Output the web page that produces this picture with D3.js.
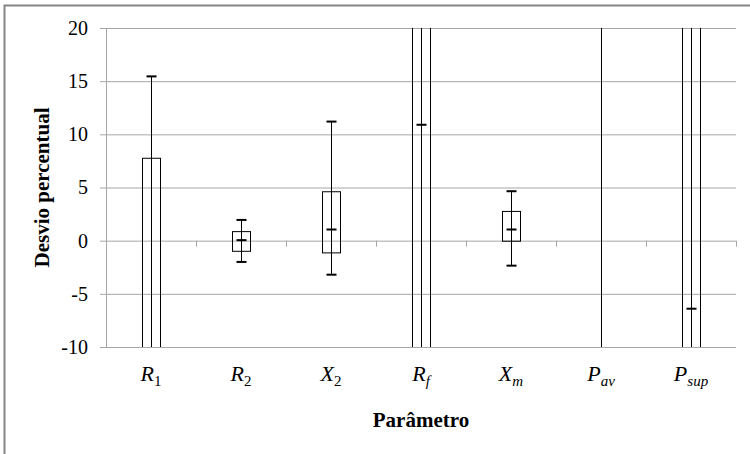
<!DOCTYPE html>
<html>
<head>
<meta charset="utf-8">
<script src="https://cdn.jsdelivr.net/npm/d3@7"></script>
<style>
  body { margin: 0; background: #fff; }
  svg { display: block; }
  text { font-family: "Liberation Serif", "DejaVu Serif", serif; }
</style>
</head>
<body>
<svg id="chart" width="750" height="454"></svg>
<script>
const serif = '"Liberation Serif", "DejaVu Serif", serif';

// categories (main letter + subscript)
const labelMain = ['R', 'R', 'X', 'R', 'X', 'P', 'P'];
const labelSub = ['1', '2', '2', 'f', 'm', 'av', 'sup'];
const subItalic = [false, false, false, true, true, true, true];

// box plot values (percent deviation); values outside -10..20 are estimates, clipped
const minVals = [-40, -2.0, -3.2, -45, -2.35, -70, -60];
const q1Vals = [-25, -1.0, -1.15, -20, -0.05, 30, -25];
const medianVals = [-12, 0.05, 1.05, 10.9, 1.05, 35, -6.4];
const q3Vals = [7.75, 0.85, 4.6, 30, 2.75, 40, 28];
const maxVals = [15.45, 1.95, 11.2, 50, 4.65, 70, 45];

const yTicks = [-10, -5, 0, 5, 10, 15, 20];

const margin = { left: 106, right: 14, top: 28, bottom: 107 };
const width = 750, height = 454;

const svg = d3.select('#chart');

// outer chart border (image is cropped at right/bottom)
svg.append('rect')
  .attr('x', 4.5).attr('y', 5.5)
  .attr('width', 800).attr('height', 500)
  .attr('fill', 'none')
  .attr('stroke', '#868686')
  .attr('stroke-width', 2);

const x = d3.scaleBand()
  .domain(labelMain.map((d, i) => i))
  .range([margin.left, width - margin.right]);

const y = d3.scaleLinear()
  .domain([-10, 20])
  .range([height - margin.bottom, margin.top]);

const gridColor = '#a6a6a6';

// horizontal gridlines + y ticks
const yAxis = svg.append('g')
  .attr('transform', `translate(${margin.left},0)`)
  .call(d3.axisLeft(y).tickValues(yTicks).tickSize(6).tickPadding(12)
    .tickFormat(d => String(d)));
yAxis.attr('font-family', serif).attr('font-size', 20);
yAxis.select('.domain').attr('stroke', gridColor);
yAxis.selectAll('.tick line').attr('stroke', gridColor);
yAxis.selectAll('.tick text').attr('fill', '#000');
yAxis.selectAll('.tick')
  .append('line')
  .attr('x1', 0)
  .attr('x2', width - margin.right - margin.left)
  .attr('stroke', gridColor);

// category axis at zero, ticks between categories
const xTicks = x.domain().map(i => x(i) + x.bandwidth()).concat([x(0)]);
svg.append('g')
  .selectAll('line')
  .data(xTicks)
  .enter()
  .append('line')
  .attr('x1', d => Math.round(d) + 0.5).attr('x2', d => Math.round(d) + 0.5)
  .attr('y1', y(0)).attr('y2', y(0) + 6)
  .attr('stroke', gridColor);

// clip boxes to plot area
svg.append('clipPath').attr('id', 'plot-clip')
  .append('rect')
  .attr('x', margin.left).attr('y', y(20))
  .attr('width', width - margin.left - margin.right)
  .attr('height', y(-10) - y(20));

const boxW = 18;
const capW = 10;
const boxes = svg.append('g')
  .attr('clip-path', 'url(#plot-clip)')
  .selectAll('g')
  .data(labelMain.map((d, i) => i))
  .enter()
  .append('g')
  .attr('transform', i => `translate(${Math.round(x(i) + x.bandwidth() / 2) + 0.5},0)`);

// whisker line
boxes.append('line')
  .attr('x1', 0).attr('x2', 0)
  .attr('y1', i => y(minVals[i])).attr('y2', i => y(maxVals[i]))
  .attr('stroke', '#000');

// box
boxes.append('rect')
  .attr('x', -boxW / 2)
  .attr('y', i => y(q3Vals[i]))
  .attr('width', boxW)
  .attr('height', i => y(q1Vals[i]) - y(q3Vals[i]))
  .attr('fill', 'none')
  .attr('stroke', '#000');

// caps
boxes.append('line')
  .attr('x1', -capW / 2).attr('x2', capW / 2)
  .attr('y1', i => y(maxVals[i])).attr('y2', i => y(maxVals[i]))
  .attr('stroke', '#000').attr('stroke-width', 2);
boxes.append('line')
  .attr('x1', -capW / 2).attr('x2', capW / 2)
  .attr('y1', i => y(minVals[i])).attr('y2', i => y(minVals[i]))
  .attr('stroke', '#000').attr('stroke-width', 2);

// median
boxes.append('line')
  .attr('x1', -capW / 2).attr('x2', capW / 2)
  .attr('y1', i => y(medianVals[i])).attr('y2', i => y(medianVals[i]))
  .attr('stroke', '#000').attr('stroke-width', 2);

// category labels
const labels = svg.append('g')
  .selectAll('text')
  .data(labelMain.map((d, i) => i))
  .enter()
  .append('text')
  .attr('x', i => x(i) + x.bandwidth() / 2)
  .attr('y', 381)
  .attr('text-anchor', 'middle')
  .attr('font-family', serif)
  .attr('font-size', 22);
labels.append('tspan')
  .attr('font-style', 'italic')
  .text(i => labelMain[i]);
labels.append('tspan')
  .attr('font-size', 15)
  .attr('dy', 5)
  .attr('font-style', i => subItalic[i] ? 'italic' : 'normal')
  .text(i => labelSub[i]);

// axis titles
svg.append('text')
  .attr('x', (margin.left + width - margin.right) / 2)
  .attr('y', 427)
  .attr('text-anchor', 'middle')
  .attr('font-family', serif)
  .attr('font-size', 21)
  .attr('font-weight', 'bold')
  .text('Parâmetro');

svg.append('text')
  .attr('transform', `translate(49,${(y(20) + y(-10)) / 2}) rotate(-90)`)
  .attr('text-anchor', 'middle')
  .attr('font-family', serif)
  .attr('font-size', 21)
  .attr('font-weight', 'bold')
  .text('Desvio percentual');
</script>
</body>
</html>
